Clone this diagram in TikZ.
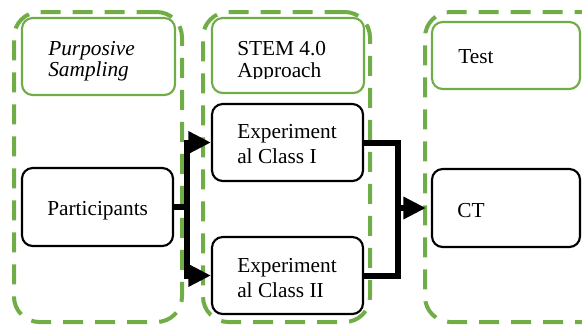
\documentclass[tikz,border=0pt]{standalone}
\usepackage{fontspec}
\setmainfont{Liberation Serif}
\usetikzlibrary{arrows.meta,fit}
\definecolor{grn}{RGB}{112,173,71}
\begin{document}
\begin{tikzpicture}[x=0.75pt,y=-0.75pt,
 group/.style={draw=grn, line width=3pt, dash pattern=on 15pt off 9pt, rounded corners=19pt, inner sep=0pt},
 gbox/.style={draw=grn, line width=1.6pt, rounded corners=8pt, inner sep=0pt},
 bbox/.style={draw=black, line width=1.6pt, rounded corners=8pt, inner sep=0pt},
 txt/.style={font=\fontsize{16}{19}\selectfont, anchor=base west, inner sep=0pt},
 link/.style={line width=4.5pt},
 conn/.style={line width=4.5pt, -{Triangle[length=17pt,width=16pt]}}
]
\useasboundingbox (0,0) rectangle (582,325);
% dashed groups
\node[group, fit={(14,12) (182,322)}] (g1) {};
\node[group, fit={(203,12) (370,322)}] (g2) {};
\node[group, fit={(425,12) (620,322)}] (g3) {};
% green header boxes
\node[gbox, fit={(22,18) (175,95)}] (ps) {};
\node[gbox, fit={(212,18) (364,93)}] (stem) {};
\node[gbox, fit={(432,22) (580,89)}] (test) {};
% black boxes
\node[bbox, fit={(22,168) (173,246)}] (part) {};
\node[bbox, fit={(212,104) (363,181)}] (e1) {};
\node[bbox, fit={(212,237) (363,314)}] (e2) {};
\node[bbox, fit={(432,169) (580,247)}] (ct) {};
% texts
\node[txt, font=\fontsize{16}{19}\selectfont\itshape] (t1a) at (48,55) {Purposive};
\node[txt, font=\fontsize{16}{19}\selectfont\itshape] (t1b) at (48,76) {Sampling};
\node[txt] (t2a) at (237,55) {STEM 4.0};
\begin{scope}
\clip (205,60) rectangle (360,78.5);
\node[txt] (t2b) at (237,77) {Approach};
\end{scope}
\node[txt] (t3) at (458,63) {Test};
\node[txt] (tp) at (47,215) {Participants};
\node[txt] (te1a) at (237,138) {Experiment};
\node[txt] (te1b) at (237,163) {al Class I};
\node[txt] (te2a) at (237,272) {Experiment};
\node[txt] (te2b) at (237,297) {al Class II};
\node[txt] (tct) at (457,217) {CT};
% connectors
\coordinate (j1) at (187,0);
\coordinate (j2) at (398,0);
\draw[conn] (part.east) -- (part.east -| j1) |- (e1.west);
\draw[conn] (part.east) -- (part.east -| j1) |- (e2.west);
\draw[link] (e1.east) -| (e2.east -| j2) -- (e2.east);
\draw[conn] (ct.west -| j2) -- ([xshift=-3.75pt]ct.west);
\end{tikzpicture}
\end{document}
